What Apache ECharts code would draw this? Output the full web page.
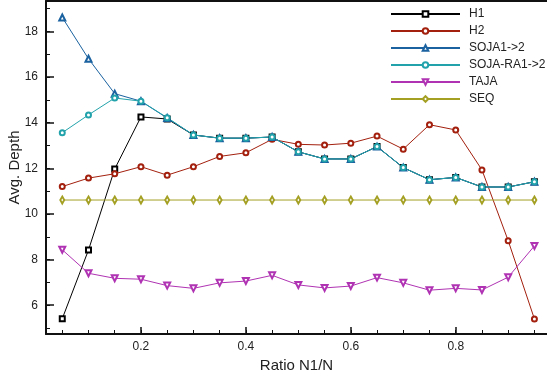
<!DOCTYPE html>
<html>
<head>
<meta charset="utf-8">
<script src="https://cdn.jsdelivr.net/npm/echarts@6/dist/echarts.min.js"></script>
<style>
html, body { margin: 0; padding: 0; background: #fff; }
#main { width: 547px; height: 378px; }
</style>
</head>
<body>
<div id="main"></div>
<script>
var ratios = [0.05, 0.1, 0.15, 0.2, 0.25, 0.3, 0.35, 0.4, 0.45, 0.5, 0.55, 0.6, 0.65, 0.7, 0.75, 0.8, 0.85, 0.9, 0.95];

var h1 = [5.41, 8.42, 11.97, 14.25, 14.16, 13.46, 13.32, 13.32, 13.37, 12.72, 12.41, 12.41, 12.95, 12.03, 11.5, 11.6, 11.18, 11.18, 11.41];
var h2 = [11.2, 11.57, 11.76, 12.07, 11.7, 12.07, 12.52, 12.68, 13.27, 13.05, 13.02, 13.1, 13.41, 12.84, 13.91, 13.68, 11.93, 8.83, 5.4];
var soja = [18.61, 16.8, 15.27, 14.94, 14.2, 13.46, 13.32, 13.32, 13.37, 12.72, 12.41, 12.41, 12.95, 12.03, 11.5, 11.6, 11.18, 11.18, 11.41];
var sojaRa = [13.56, 14.34, 15.08, 14.94, 14.22, 13.46, 13.32, 13.32, 13.37, 12.72, 12.41, 12.41, 12.95, 12.03, 11.5, 11.6, 11.18, 11.18, 11.41];
var taja = [8.43, 7.4, 7.18, 7.14, 6.86, 6.74, 6.98, 7.06, 7.31, 6.89, 6.76, 6.84, 7.21, 6.98, 6.66, 6.74, 6.67, 7.23, 8.6];
var seq = [10.61, 10.61, 10.61, 10.61, 10.61, 10.61, 10.61, 10.61, 10.61, 10.61, 10.61, 10.61, 10.61, 10.61, 10.61, 10.61, 10.61, 10.61, 10.61];

// tick ranges: [first, last, step]
var xMajorTicks = [0.2, 0.8, 0.2];
var xMinorTicks = [0.05, 0.95, 0.05];
var yMajorTicks = [6, 18, 2];
var yMinorTicks = [5, 19, 1];

var myChart = echarts.init(document.getElementById('main'));

function pairs(values)
{
    var out = [];
    for (var i = 0; i < values.length; i++) {
        out.push([ratios[i], values[i]]);
    }
    return out;
}

function makeSeries(name, values, color, symbol, size, rotate)
{
    return {
        name: name,
        type: 'line',
        xAxisIndex: 0,
        yAxisIndex: 0,
        data: pairs(values),
        symbol: symbol,
        symbolSize: size,
        symbolRotate: rotate || 0,
        showAllSymbol: true,
        color: color,
        lineStyle: { color: color, width: 1 },
        itemStyle: { color: color, borderWidth: 1.3 },
        animation: false
    };
}

var font = 'Liberation Sans, Arial, sans-serif';
var W = 547, H = 378;
var xMin = 0.019, xMax = 0.974, yMin = 4.74, yMax = 19.33;
var box = { left: 46, right: 0, top: 1, bottom: 44, outerBoundsMode: 'none', containLabel: false };
var plotW = W - box.left - box.right;
var plotH = H - box.top - box.bottom;

function px(v) { return box.left + (v - xMin) / (xMax - xMin) * plotW; }
function py(v) { return box.top + (yMax - v) / (yMax - yMin) * plotH; }

// helper grids whose extent lines up with the main scale, used only for ticks
function xTickGrid(t) { return { left: px(t[0]), right: W - px(t[1]), top: box.top, bottom: box.bottom, outerBoundsMode: 'none' }; }
function yTickGrid(t) { return { left: box.left, right: box.right, top: py(t[1]), bottom: H - py(t[0]), outerBoundsMode: 'none' }; }

function hiddenAxis(grid, pos)
{
    return { type: 'value', gridIndex: grid, position: pos, show: false, min: 0, max: 1 };
}
function tickAxis(grid, pos, t, len, w)
{
    return {
        type: 'value', gridIndex: grid, position: pos,
        min: t[0], max: t[1], interval: t[2],
        axisLine: { show: false, onZero: false },
        axisTick: { show: true, inside: true, length: len, lineStyle: { color: '#111', width: w } },
        axisLabel: { show: false },
        splitLine: { show: false }
    };
}

var option = {
    backgroundColor: '#fff',
    grid: [
        Object.assign({}, box),
        xTickGrid(xMajorTicks),
        xTickGrid(xMinorTicks),
        yTickGrid(yMajorTicks),
        yTickGrid(yMinorTicks)
    ],
    legend: {
        orient: 'vertical',
        left: 385,
        top: 3,
        itemWidth: 69,
        itemHeight: 7,
        itemGap: 5,
        textStyle: { fontFamily: font, fontSize: 12, lineHeight: 12, color: '#222', padding: [0, 0, 0, 4] },
        data: ['H1', 'H2', 'SOJA1->2', 'SOJA-RA1->2', 'TAJA', 'SEQ']
    },
    xAxis: [
        {
            type: 'value', gridIndex: 0, position: 'bottom',
            min: xMin, max: xMax,
            name: 'Ratio N1/N', nameLocation: 'middle', nameGap: 24, nameMoveOverlap: false,
            nameTextStyle: { fontFamily: font, fontSize: 15, color: '#222' },
            axisLine: { show: true, onZero: false, lineStyle: { color: '#111', width: 2 } },
            axisTick: { show: false },
            axisLabel: { fontFamily: font, fontSize: 12, color: '#222', margin: 7, customValues: [0.2, 0.4, 0.6, 0.8] },
            splitLine: { show: false }
        },
        {
            type: 'value', gridIndex: 0, position: 'top',
            min: xMin, max: xMax,
            axisLine: { show: true, onZero: false, lineStyle: { color: '#111', width: 2 } },
            axisTick: { show: false },
            axisLabel: { show: false },
            splitLine: { show: false }
        },
        tickAxis(1, 'bottom', xMajorTicks, 7, 1.5),
        tickAxis(2, 'bottom', xMinorTicks, 4, 1),
        hiddenAxis(3, 'bottom'),
        hiddenAxis(4, 'bottom')
    ],
    yAxis: [
        {
            type: 'value', gridIndex: 0, position: 'left',
            min: yMin, max: yMax,
            name: 'Avg. Depth', nameLocation: 'middle', nameGap: 24, nameMoveOverlap: false,
            nameTextStyle: { fontFamily: font, fontSize: 15, color: '#222' },
            axisLine: { show: true, onZero: false, lineStyle: { color: '#111', width: 2 } },
            axisTick: { show: false },
            axisLabel: { fontFamily: font, fontSize: 12, color: '#222', margin: 8, customValues: [6, 8, 10, 12, 14, 16, 18] },
            splitLine: { show: false }
        },
        hiddenAxis(1, 'left'),
        hiddenAxis(2, 'left'),
        tickAxis(3, 'left', yMajorTicks, 8, 1.5),
        tickAxis(4, 'left', yMinorTicks, 4, 1)
    ],
    series: [
        makeSeries('H1', h1, '#000000', 'emptyRect', 5),
        makeSeries('H2', h2, '#a3200e', 'emptyCircle', 5),
        makeSeries('SOJA1->2', soja, '#1a62a0', 'emptyTriangle', 6),
        makeSeries('SOJA-RA1->2', sojaRa, '#22a3ab', 'emptyCircle', 5),
        makeSeries('TAJA', taja, '#b033b3', 'emptyTriangle', 6, 180),
        makeSeries('SEQ', seq, '#a4a024', 'emptyDiamond', [4, 7])
    ]
};

myChart.setOption(option);
</script>
</body>
</html>
